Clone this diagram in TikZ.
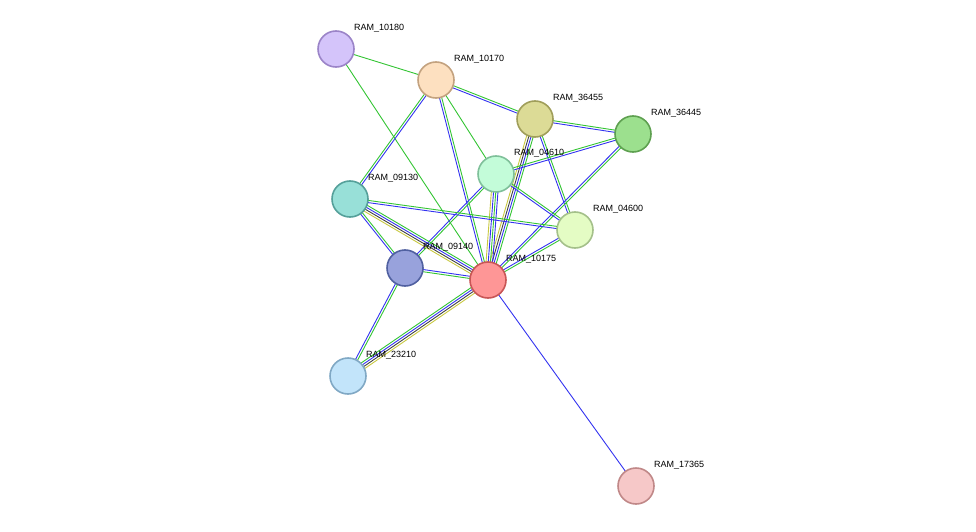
\documentclass[tikz,border=0pt]{standalone}
\usepackage{fontspec}
\setmainfont{Liberation Sans}
\usetikzlibrary{calc}
\pgfdeclarelayer{bg}\pgfsetlayers{bg,main}
\definecolor{eg}{HTML}{33C433}
\definecolor{eb}{HTML}{3333F0}
\definecolor{ey}{HTML}{C8C840}
\definecolor{ek}{HTML}{404040}
\tikzset{prot/.style={circle,minimum size=36pt,inner sep=0pt,line width=1.6pt},
 lab/.style={anchor=west,font=\fontsize{9}{10}\selectfont,inner sep=0pt}}
\newcommand\medge[3]{%
 \pgfmathanglebetweenpoints{\pgfpointanchor{#1}{center}}{\pgfpointanchor{#2}{center}}%
 \edef\ang{\pgfmathresult}%
 \foreach \c [count=\i] in {#3} {\xdef\nn{\i}}%
 \foreach \c [count=\i] in {#3} {%
  \pgfmathsetmacro\off{(\i-(\nn+1)/2)*2.2}%
  \draw[\c,line width=0.9pt] ($(#1)+(\ang+90:\off pt)$) -- ($(#2)+(\ang+90:\off pt)$);}}
\begin{document}
\begin{tikzpicture}[x=1pt,y=-1pt]
\useasboundingbox (0,0) rectangle (976,532);
\def\P#1#2#3#4#5{\definecolor{f#1}{HTML}{#4}\definecolor{d#1}{HTML}{#5}%
 \node[prot,fill=f#1,draw=d#1] (#1) at (#2,#3) {};
 \node[lab] (L#1) at (#2+18,#3-21) {RAM\_#1};}
\P{10180}{336}{49}{D4C4FA}{9B84C8}
\P{10170}{436}{80}{FDE0C0}{C3A27F}
\P{36455}{535}{119}{DCDB96}{A09E5A}
\P{36445}{633}{134}{9CE08E}{5EA050}
\P{04610}{496}{174}{C3FCD9}{7FC09A}
\P{09130}{350}{199}{98E0D8}{55A09A}
\P{04600}{575}{230}{E4FCC4}{A4C08A}
\P{09140}{405}{268}{98A2DC}{5060A0}
\P{10175}{488}{280}{FE9696}{C85656}
\P{23210}{348}{376}{C2E4FA}{80A8C4}
\P{17365}{636}{486}{F6C8C8}{C08888}
\begin{pgfonlayer}{bg}
\medge{10180}{10170}{eg}
\medge{10180}{10175}{eg}
\medge{10170}{09130}{eg,eb}
\medge{10170}{10175}{eb,eg}
\medge{10170}{04610}{eg}
\medge{10170}{36455}{eb,eg}
\medge{36455}{36445}{eb,eg}
\medge{36455}{10175}{ey,ek,eb,eg}
\medge{36455}{04600}{eb,eg}
\medge{36445}{04610}{eg,eb}
\medge{36445}{10175}{eb,eg}
\medge{04610}{10175}{ey,eb,eg,eb}
\medge{04610}{09140}{eb,eg}
\medge{04610}{04600}{eb,eg}
\medge{09130}{04600}{eb,eg}
\medge{09130}{10175}{ey,ek,eb,eg}
\medge{09130}{09140}{eb,eg}
\medge{09140}{23210}{eb,eg}
\medge{23210}{10175}{ey,ek,eb,eg}
\medge{09140}{10175}{eg,eb}
\medge{04600}{10175}{eb,eg}
\medge{10175}{17365}{eb}
\end{pgfonlayer}
\end{tikzpicture}
\end{document}
